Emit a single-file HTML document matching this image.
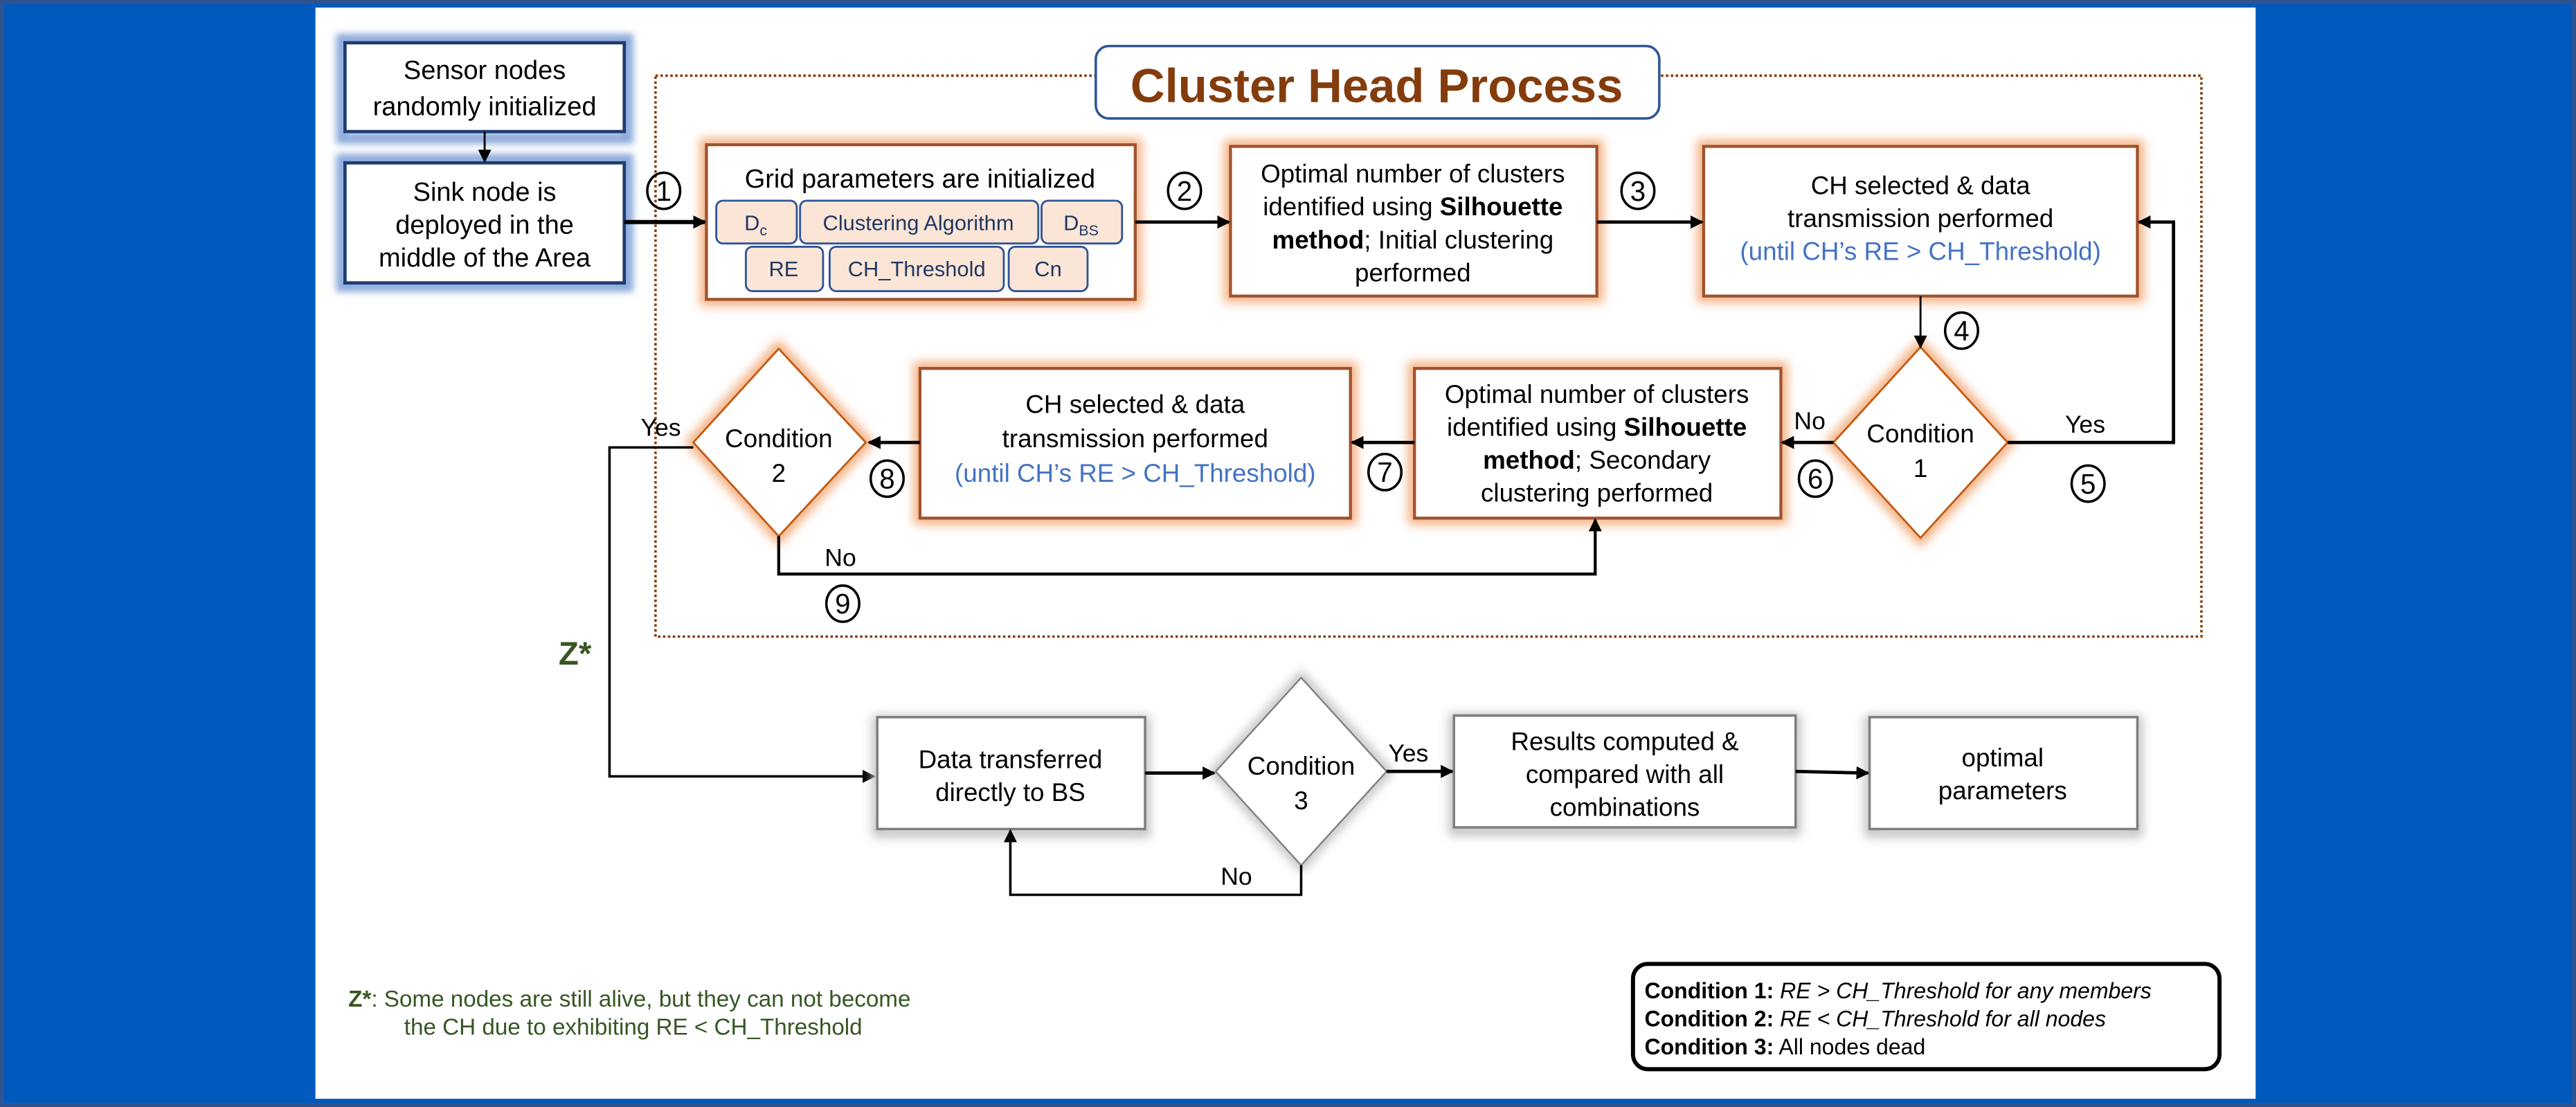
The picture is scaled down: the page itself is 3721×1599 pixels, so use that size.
<!DOCTYPE html>
<html><head><meta charset="utf-8"><style>
html,body{margin:0;padding:0;background:#0058bd;}
svg{display:block;}
text{font-family:"Liberation Sans",Arial,sans-serif;}
</style></head><body>
<svg width="3721" height="1599" viewBox="0 0 1568 673" preserveAspectRatio="none" xmlns="http://www.w3.org/2000/svg">
<defs>
<filter id="bl" x="-20%" y="-20%" width="140%" height="140%"><feGaussianBlur stdDeviation="3"/></filter>
<filter id="bl2" x="-20%" y="-20%" width="140%" height="140%"><feGaussianBlur stdDeviation="2"/></filter>
<marker id="ah" markerWidth="8" markerHeight="8" refX="7" refY="4" orient="auto" markerUnits="userSpaceOnUse"><path d="M0,0 L8,4 L0,8 z" fill="#000"/></marker>
</defs>
<rect x="0" y="0" width="1568" height="673" fill="#005abd"/>
<rect x="0" y="0" width="1568" height="2.5" fill="#2f5391"/>
<rect x="0" y="670.5" width="1568" height="2.5" fill="#2f5391"/>
<rect x="0" y="0" width="2.5" height="673" fill="#2f5391"/>
<rect x="1565.5" y="0" width="2.5" height="673" fill="#2f5391"/>
<rect x="192" y="4.6" width="1181" height="663.4" fill="#fff"/>

<!-- dotted cluster area -->
<rect x="399" y="46" width="941" height="341" fill="none" stroke="#843c0c" stroke-width="1.5" stroke-dasharray="1.5 1.5"/>
<rect x="667" y="28" width="343" height="44" rx="8" fill="#fff" stroke="#2f5597" stroke-width="1.5"/>
<text x="838" y="62" font-size="29" font-weight="bold" fill="#843c0c" text-anchor="middle">Cluster Head Process</text>

<!-- blue boxes -->
<g>
<rect x="208" y="24" width="174" height="60" fill="none" stroke="#8eaadb" stroke-width="7" filter="url(#bl2)"/>
<rect x="208" y="97" width="174" height="77" fill="none" stroke="#8eaadb" stroke-width="7" filter="url(#bl2)"/>
<rect x="210" y="26" width="170" height="54" fill="#fff" stroke="#1f3b73" stroke-width="2"/>
<rect x="210" y="99" width="170" height="73" fill="#fff" stroke="#1f3b73" stroke-width="2"/>
</g>
<g font-size="16" text-anchor="middle" fill="#000">
<text x="295" y="48">Sensor nodes</text>
<text x="295" y="70">randomly initialized</text>
<text x="295" y="122">Sink node is</text>
<text x="295" y="142">deployed in the</text>
<text x="295" y="162">middle of the Area</text>
</g>
<line x1="295" y1="80" x2="295" y2="98" stroke="#000" stroke-width="1.2" marker-end="url(#ah)"/>

<!-- orange glow boxes -->
<g fill="none" stroke="#f4b183" stroke-width="8" filter="url(#bl)">
<rect x="430" y="88" width="261" height="94"/>
<rect x="749" y="89" width="223" height="91"/>
<rect x="1037" y="89" width="264" height="91"/>
<rect x="861" y="224" width="223" height="91"/>
<rect x="560" y="224" width="262" height="91"/>
<polygon points="1169,211 1222,269 1169,327 1116,269"/>
<polygon points="474,212 527,269 474,326 422,269"/>
</g>
<g fill="#fff" stroke="#a0522d" stroke-width="1.8">
<rect x="430" y="88" width="261" height="94"/>
<rect x="749" y="89" width="223" height="91"/>
<rect x="1037" y="89" width="264" height="91"/>
<rect x="861" y="224" width="223" height="91"/>
<rect x="560" y="224" width="262" height="91"/>
</g>
<g fill="#fff" stroke="#c55a11" stroke-width="1.2">
<polygon points="1169,211 1222,269 1169,327 1116,269"/>
<polygon points="474,212 527,269 474,326 422,269"/>
</g>

<!-- grid box content -->
<text x="560" y="114" font-size="16" text-anchor="middle">Grid parameters are initialized</text>
<g fill="#fbe5d6" stroke="#2f5597" stroke-width="1.2">
<rect x="436" y="122" width="49" height="26" rx="4"/>
<rect x="487" y="122" width="145" height="26" rx="4"/>
<rect x="634" y="122" width="49" height="26" rx="4"/>
<rect x="454" y="150" width="47" height="27" rx="4"/>
<rect x="505" y="150" width="106" height="27" rx="4"/>
<rect x="614" y="150" width="48" height="27" rx="4"/>
</g>
<g font-size="13" fill="#1f3864" text-anchor="middle">
<text x="460" y="140">D<tspan font-size="9" dy="3">c</tspan></text>
<text x="559" y="140">Clustering Algorithm</text>
<text x="658" y="140">D<tspan font-size="9" dy="3">BS</tspan></text>
<text x="477" y="168">RE</text>
<text x="558" y="168">CH_Threshold</text>
<text x="638" y="168">Cn</text>
</g>

<!-- box texts -->
<g font-size="15.5" text-anchor="middle">
<text x="860" y="111">Optimal number of clusters</text>
<text x="860" y="131">identified using <tspan font-weight="bold">Silhouette</tspan></text>
<text x="860" y="151"><tspan font-weight="bold">method</tspan>; Initial clustering</text>
<text x="860" y="171">performed</text>
<text x="1169" y="118">CH selected &amp; data</text>
<text x="1169" y="138">transmission performed</text>
<text x="1169" y="158" fill="#4472c4">(until CH’s RE &gt; CH_Threshold)</text>
<text x="972" y="245">Optimal number of clusters</text>
<text x="972" y="265">identified using <tspan font-weight="bold">Silhouette</tspan></text>
<text x="972" y="285"><tspan font-weight="bold">method</tspan>; Secondary</text>
<text x="972" y="305">clustering performed</text>
<text x="691" y="251">CH selected &amp; data</text>
<text x="691" y="272">transmission performed</text>
<text x="691" y="293" fill="#4472c4">(until CH’s RE &gt; CH_Threshold)</text>
<text x="1169" y="269">Condition</text>
<text x="1169" y="290">1</text>
<text x="474" y="272">Condition</text>
<text x="474" y="293">2</text>
</g>

<!-- arrows top -->
<g stroke="#000" fill="none">
<line x1="380" y1="135" x2="429" y2="135" stroke-width="2.5" marker-end="url(#ah)"/>
<line x1="691" y1="135" x2="748" y2="135" stroke-width="2" marker-end="url(#ah)"/>
<line x1="972" y1="135" x2="1036" y2="135" stroke-width="2" marker-end="url(#ah)"/>
<line x1="1169" y1="180" x2="1169" y2="211" stroke-width="1.2" marker-end="url(#ah)"/>
<polyline points="1222,269 1323,269 1323,135 1302,135" stroke-width="2" marker-end="url(#ah)"/>
<line x1="1116" y1="269" x2="1085" y2="269" stroke-width="2" marker-end="url(#ah)"/>
<line x1="861" y1="269" x2="823" y2="269" stroke-width="2" marker-end="url(#ah)"/>
<line x1="560" y1="269" x2="529" y2="269" stroke-width="2" marker-end="url(#ah)"/>
<polyline points="474,326 474,349 971,349 971,316" stroke-width="1.8" marker-end="url(#ah)"/>
<polyline points="422,272 371,272 371,472 532,472" stroke-width="1.5" marker-end="url(#ah)"/>
</g>

<!-- labels -->
<g font-size="15">
<text x="1257" y="263">Yes</text>
<text x="1092" y="261">No</text>
<text x="390" y="265">Yes</text>
<text x="502" y="344">No</text>
<text x="845" y="463">Yes</text>
<text x="743" y="538">No</text>
</g>

<!-- circled numbers -->
<g fill="none" stroke="#000" stroke-width="1.5">
<ellipse cx="404" cy="116" rx="10" ry="11"/>
<ellipse cx="721" cy="116" rx="10" ry="11"/>
<ellipse cx="997" cy="116" rx="10" ry="11"/>
<ellipse cx="1194" cy="201" rx="10" ry="11"/>
<ellipse cx="1271" cy="294" rx="10" ry="11"/>
<ellipse cx="1105" cy="291" rx="10" ry="11"/>
<ellipse cx="843" cy="287" rx="10" ry="11"/>
<ellipse cx="540" cy="291" rx="10" ry="11"/>
<ellipse cx="513" cy="367" rx="10" ry="11"/>
</g>
<g font-size="17" text-anchor="middle">
<text x="404" y="122">1</text>
<text x="721" y="122">2</text>
<text x="997" y="122">3</text>
<text x="1194" y="207">4</text>
<text x="1271" y="300">5</text>
<text x="1105" y="297">6</text>
<text x="843" y="293">7</text>
<text x="540" y="297">8</text>
<text x="513" y="373">9</text>
</g>

<text x="340" y="404" font-size="20" font-weight="bold" fill="#375623">Z*</text>

<!-- bottom gray boxes -->
<g fill="none" stroke="#bfbfbf" stroke-width="6" filter="url(#bl)">
<rect x="534" y="438" width="163" height="68"/>
<rect x="885" y="437" width="208" height="68"/>
<rect x="1138" y="438" width="163" height="68"/>
<polygon points="792,412 844,469 792,526 740,469"/>
</g>
<g fill="#fff" stroke="#7f7f7f" stroke-width="1.5">
<rect x="534" y="436" width="163" height="68"/>
<rect x="885" y="435" width="208" height="68"/>
<rect x="1138" y="436" width="163" height="68"/>
<polygon points="792,412 844,469 792,526 740,469" stroke-width="1"/>
</g>
<g font-size="15.5" text-anchor="middle">
<text x="615" y="467">Data transferred</text>
<text x="615" y="487">directly to BS</text>
<text x="792" y="471">Condition</text>
<text x="792" y="492">3</text>
<text x="989" y="456">Results computed &amp;</text>
<text x="989" y="476">compared with all</text>
<text x="989" y="496">combinations</text>
<text x="1219" y="466">optimal</text>
<text x="1219" y="486">parameters</text>
</g>
<g stroke="#000" fill="none">
<line x1="697" y1="470" x2="739" y2="470" stroke-width="2" marker-end="url(#ah)"/>
<line x1="844" y1="469" x2="884" y2="469" stroke-width="2" marker-end="url(#ah)"/>
<line x1="1093" y1="469" x2="1137" y2="470" stroke-width="2" marker-end="url(#ah)"/>
<polyline points="792,526 792,544 615,544 615,505" stroke-width="1.5" marker-end="url(#ah)"/>
</g>

<!-- note -->
<g font-size="14" fill="#375623">
<text x="212" y="612"><tspan font-weight="bold">Z*</tspan>: Some nodes are still alive, but they can not become</text>
<text x="246" y="629">the CH due to exhibiting RE &lt; CH_Threshold</text>
</g>

<!-- legend -->
<rect x="994" y="586" width="357" height="64" rx="9" fill="#fff" stroke="#000" stroke-width="2.5"/>
<g font-size="13.5">
<text x="1001" y="607"><tspan font-weight="bold">Condition 1:</tspan> <tspan font-style="italic">RE &gt; CH_Threshold for any members</tspan></text>
<text x="1001" y="624"><tspan font-weight="bold">Condition 2:</tspan> <tspan font-style="italic">RE &lt; CH_Threshold for all nodes</tspan></text>
<text x="1001" y="641"><tspan font-weight="bold">Condition 3:</tspan> All nodes dead</text>
</g>
</svg>
</body></html>
